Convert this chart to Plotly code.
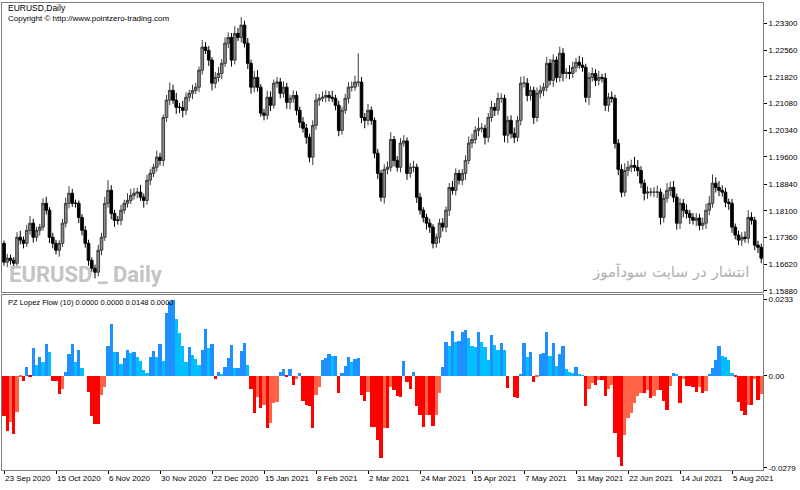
import plotly.graph_objects as go

# ---------------- data ----------------
tick_labels = ["23 Sep 2020", "15 Oct 2020", "6 Nov 2020", "30 Nov 2020", "22 Dec 2020",
               "15 Jan 2021", "8 Feb 2021", "2 Mar 2021", "24 Mar 2021", "15 Apr 2021",
               "7 May 2021", "31 May 2021", "22 Jun 2021", "14 Jul 2021", "5 Aug 2021"]
tick_bars = [0, 16, 32, 48, 64, 80, 96, 112, 128, 144, 160, 176, 192, 208, 224]

first_open = 1.1720
closes = [
    1.1668, 1.1679, 1.1673, 1.1665, 1.1737, 1.1729, 1.1720, 1.1756, 1.1776, 1.1737,
    1.1756, 1.1765, 1.1831, 1.1812, 1.1737, 1.1720, 1.1701, 1.1720, 1.1776, 1.1831,
    1.1859, 1.1831, 1.1831, 1.1792, 1.1756, 1.1720, 1.1673, 1.1651, 1.1640, 1.1701,
    1.1737, 1.1831, 1.1867, 1.1803, 1.1784, 1.1784, 1.1812, 1.1831, 1.1839, 1.1853,
    1.1859, 1.1862, 1.1848, 1.1839, 1.1895, 1.1914, 1.1931, 1.1959, 1.1950, 1.2069,
    1.2117, 1.2144, 1.2117, 1.2097, 1.2097, 1.2089, 1.2125, 1.2136, 1.2144, 1.2153,
    1.2200, 1.2264, 1.2255, 1.2228, 1.2164, 1.2180, 1.2191, 1.2219, 1.2275, 1.2291,
    1.2228, 1.2302, 1.2291, 1.2325, 1.2275, 1.2219, 1.2153, 1.2180, 1.2153, 1.2081,
    1.2075, 1.2125, 1.2103, 1.2164, 1.2167, 1.2136, 1.2153, 1.2111, 1.2122, 1.2130,
    1.2089, 1.2056, 1.2039, 1.2014, 1.1959, 1.2047, 1.2117, 1.2122, 1.2125, 1.2130,
    1.2125, 1.2122, 1.2103, 1.2033, 1.2089, 1.2122, 1.2153, 1.2153, 1.2167, 1.2167,
    1.2069, 1.2061, 1.2089, 1.2061, 1.1970, 1.1914, 1.1848, 1.1925, 1.1931, 1.2008,
    1.1950, 1.1931, 1.1998, 1.2004, 1.1914, 1.1931, 1.1931, 1.1848, 1.1812, 1.1792,
    1.1776, 1.1765, 1.1720, 1.1737, 1.1776, 1.1765, 1.1812, 1.1875, 1.1867, 1.1914,
    1.1895, 1.1914, 1.1950, 1.1998, 1.2008, 1.2033, 1.2039, 1.2039, 1.2014, 1.2069,
    1.2097, 1.2089, 1.2122, 1.2122, 1.2020, 1.2061, 1.2025, 1.2014, 1.2061, 1.2164,
    1.2164, 1.2130, 1.2144, 1.2069, 1.2136, 1.2144, 1.2153, 1.2219, 1.2172, 1.2228,
    1.2180, 1.2247, 1.2191, 1.2194, 1.2191, 1.2208, 1.2222, 1.2214, 1.2208, 1.2125,
    1.2180, 1.2191, 1.2172, 1.2180, 1.2178, 1.2103, 1.2125, 1.2122, 1.1997, 1.1925,
    1.1862, 1.1922, 1.1931, 1.1936, 1.1931, 1.1922, 1.1887, 1.1859, 1.1862, 1.1862,
    1.1862, 1.1862, 1.1792, 1.1845, 1.1867, 1.1875, 1.1848, 1.1776, 1.1831, 1.1812,
    1.1803, 1.1792, 1.1784, 1.1790, 1.1770, 1.1776, 1.1812, 1.1831, 1.1887, 1.1875,
    1.1867, 1.1862, 1.1834, 1.1831, 1.1765, 1.1743, 1.1729, 1.1737, 1.1734, 1.1792,
    1.1784, 1.1715, 1.1709, 1.1679,
]
# wick lengths above / below the body, in pips
upper_wick_pips = [
    8, 12, 10, 9, 14, 18, 10, 15, 20, 12,
    10, 9, 14, 18, 8, 12, 10, 9, 12, 16,
    20, 12, 10, 8, 9, 12, 10, 8, 10, 15,
    12, 18, 28, 14, 10, 12, 15, 10, 20, 18,
    14, 12, 20, 10, 15, 12, 10, 18, 12, 8,
    14, 22, 16, 20, 12, 18, 14, 10, 16, 12,
    10, 20, 14, 12, 8, 15, 18, 12, 16, 14,
    12, 20, 15, 22, 12, 14, 10, 18, 20, 8,
    12, 18, 16, 10, 14, 12, 16, 12, 10, 14,
    12, 10, 14, 12, 10, 14, 18, 12, 16, 14,
    12, 18, 10, 12, 10, 12, 14, 16, 18, 80,
    14, 12, 18, 10, 8, 12, 10, 14, 16, 20,
    10, 12, 14, 16, 10, 12, 18, 10, 12, 8,
    10, 12, 8, 10, 12, 14, 10, 12, 18, 14,
    10, 12, 14, 18, 16, 12, 30, 14, 10, 12,
    18, 12, 16, 14, 10, 12, 14, 16, 12, 18,
    20, 14, 12, 10, 16, 14, 12, 18, 12, 16,
    10, 18, 14, 12, 20, 16, 12, 18, 22, 10,
    14, 16, 12, 18, 10, 14, 12, 16, 10, 12,
    14, 20, 18, 16, 24, 20, 12, 10, 16, 12,
    14, 18, 10, 12, 20, 16, 18, 10, 14, 12,
    16, 10, 12, 14, 12, 16, 18, 20, 24, 16,
    18, 14, 12, 10, 12, 10, 12, 14, 16, 20,
    14, 10, 12, 10,
]
lower_wick_pips = [
    10, 14, 12, 16, 10, 12, 14, 10, 12, 15,
    12, 14, 10, 12, 16, 14, 12, 18, 10, 12,
    14, 10, 12, 16, 14, 12, 15, 10, 17, 12,
    14, 10, 12, 16, 18, 12, 14, 10, 12, 10,
    12, 14, 10, 20, 12, 14, 10, 12, 14, 16,
    12, 14, 10, 18, 16, 20, 14, 12, 16, 10,
    14, 12, 10, 16, 20, 14, 12, 16, 10, 14,
    18, 12, 10, 14, 12, 16, 18, 14, 12, 10,
    14, 12, 16, 10, 12, 14, 12, 18, 20, 12,
    14, 16, 12, 18, 14, 22, 12, 16, 10, 14,
    12, 10, 14, 16, 12, 10, 14, 12, 10, 12,
    16, 22, 14, 12, 14, 16, 12, 18, 14, 12,
    16, 12, 14, 10, 18, 12, 14, 16, 12, 14,
    18, 16, 14, 12, 16, 12, 14, 16, 12, 14,
    12, 14, 18, 10, 14, 12, 16, 12, 20, 14,
    12, 16, 14, 12, 20, 22, 14, 16, 12, 14,
    12, 16, 14, 18, 12, 14, 16, 12, 14, 18,
    14, 12, 22, 14, 16, 12, 14, 10, 12, 14,
    22, 12, 16, 14, 12, 16, 18, 12, 14, 16,
    14, 12, 16, 14, 12, 16, 14, 20, 16, 12,
    14, 16, 20, 14, 12, 16, 14, 18, 16, 20,
    14, 18, 12, 16, 14, 12, 16, 14, 12, 14,
    16, 12, 14, 18, 16, 12, 14, 16, 12, 14,
    12, 14, 16, 14,
]
lopez_flow = [
    -0.0123, -0.0168, -0.0140, -0.0176, -0.0109, -0.0003, -0.0014, 0.0027, -0.0004, 0.0085,
    0.0034, 0.0057, 0.0044, 0.0098, 0.0073, -0.0015, -0.0015, -0.0056, -0.0041, 0.0013,
    0.0068, 0.0098, 0.0044, 0.0080, 0.0024, 0.0000,
    -0.0048, -0.0123, -0.0147, -0.0147, -0.0058, -0.0035,
    0.0090, 0.0157, 0.0072, 0.0072, 0.0037, 0.0056, 0.0078, 0.0070, 0.0073, 0.0059,
    0.0047, 0.0018, 0.0010, 0.0059, 0.0075, 0.0059, 0.0098, 0.0047, 0.0190, 0.0225,
    0.0230, 0.0172, 0.0131, 0.0092, 0.0044, 0.0088, 0.0064, 0.0051, 0.0034, 0.0080,
    0.0143, 0.0085, 0.0097, -0.0009, 0.0013, 0.0006, 0.0027, 0.0054, 0.0095, 0.0024,
    0.0024, 0.0075, 0.0100, 0.0034,
    -0.0040, -0.0112, -0.0063, -0.0098, -0.0089, -0.0159, -0.0143, -0.0081, -0.0079,
    0.0013, 0.0021, -0.0004, 0.0022, -0.0026, -0.0010, 0.0008, -0.0076, -0.0089, -0.0091,
    -0.0159, -0.0058, -0.0033,
    0.0049, 0.0054, 0.0068, 0.0061, 0.0062, -0.0051,
    0.0010, 0.0029, 0.0057, 0.0044, 0.0052, 0.0054,
    -0.0058, -0.0076, -0.0048, -0.0155, -0.0155, -0.0194, -0.0248, -0.0158, -0.0158, -0.0033,
    -0.0043, -0.0061, -0.0065, 0.0046,
    -0.0017, -0.0041, 0.0013, -0.0091, -0.0120, -0.0155, -0.0120, -0.0120, -0.0152, -0.0120,
    -0.0051,
    0.0026, 0.0102, 0.0092, 0.0136, 0.0102, 0.0105, 0.0133, 0.0139, 0.0115, 0.0090,
    0.0088, 0.0133, 0.0102, 0.0088, 0.0049, 0.0124, 0.0093, 0.0078, 0.0100, 0.0078,
    -0.0036, 0.0000, -0.0064, -0.0068, 0.0003,
    0.0100, 0.0057, 0.0073, -0.0017,
    -0.0004, 0.0068, 0.0070, 0.0133, 0.0062, 0.0100, 0.0029, 0.0068, 0.0092, 0.0021,
    0.0013, 0.0008, 0.0026, 0.0005, 0.0002,
    -0.0092, -0.0041, -0.0020, -0.0026, -0.0012, -0.0012, -0.0061, -0.0041, -0.0028, -0.0174,
    -0.0245, -0.0273, -0.0178, -0.0128, -0.0112, -0.0082, -0.0060, -0.0053, -0.0053, -0.0043,
    -0.0068, -0.0061, -0.0043, -0.0043, -0.0077, -0.0102, -0.0031,
    0.0010, 0.0003,
    -0.0082, -0.0010, -0.0030, -0.0031, -0.0035, -0.0048, -0.0033, -0.0051, -0.0045,
    0.0003, 0.0024, 0.0049, 0.0092, 0.0061, 0.0057, 0.0049, 0.0010,
    -0.0004, -0.0079, -0.0106, -0.0120, -0.0089, -0.0089, -0.0010, -0.0074, -0.0055,
]

price_ticks = [1.23300, 1.22560, 1.21820, 1.21080, 1.20340, 1.19600,
               1.18840, 1.18100, 1.17360, 1.16620, 1.15880]
flow_ticks = [0.0233, 0.0, -0.0279]
flow_tick_text = ["0.0233", "0.00", "-0.0279"]

# ---------------- build ----------------
n = len(closes)
bars = list(range(n))
opens = [first_open] + closes[:-1]
highs = [max(o, c) + u / 10000 for o, c, u in zip(opens, closes, upper_wick_pips)]
lows = [min(o, c) - d / 10000 for o, c, d in zip(opens, closes, lower_wick_pips)]

flow_colors = []
prev = None
for v in lopez_flow:
    if v >= 0:
        flow_colors.append("#1E90FF" if (prev is None or v >= prev) else "#00BFFF")
    else:
        flow_colors.append("#FF0000" if (prev is None or v <= prev) else "#FF6347")
    prev = v

FONT = "Liberation Sans, Arial, sans-serif"
BORDER = "#808080"

fig = go.Figure()
fig.add_trace(go.Candlestick(
    x=bars, open=opens, high=highs, low=lows, close=closes,
    increasing=dict(line=dict(color="#3c3c3c", width=1), fillcolor="#8a8a8a"),
    decreasing=dict(line=dict(color="#000000", width=1), fillcolor="#000000"),
    whiskerwidth=0, xaxis="x", yaxis="y", hoverinfo="skip",
))
fig.add_trace(go.Bar(
    x=list(range(len(lopez_flow))), y=lopez_flow, marker=dict(color=flow_colors, line=dict(width=0)),
    width=1.0, xaxis="x2", yaxis="y2", hoverinfo="skip",
))

x_range = [-0.62, 233.54]
fig.update_layout(
    width=800, height=490,
    margin=dict(l=2, r=37, t=3, b=20, autoexpand=False),
    paper_bgcolor="white", plot_bgcolor="white",
    showlegend=False, bargap=0, boxgap=0.15, boxgroupgap=0.05,
    font=dict(family=FONT, size=8, color="black"),
    xaxis=dict(domain=[0, 1], range=x_range, anchor="y", showticklabels=False,
               showgrid=False, zeroline=False, ticks="", rangeslider=dict(visible=False),
               showline=True, mirror=True, linecolor=BORDER, linewidth=1, automargin=False),
    yaxis=dict(domain=[0.3812, 1], side="right", range=[1.15852, 1.23863],
               tickvals=price_ticks, ticktext=[f"{t:.5f}" for t in price_ticks],
               ticks="outside", ticklen=3, tickcolor="black", tickfont=dict(size=8, family=FONT),
               showgrid=False, zeroline=False, showline=True, mirror=True,
               linecolor=BORDER, linewidth=1, automargin=False),
    xaxis2=dict(domain=[0, 1], range=x_range, anchor="y2", matches="x",
                tickvals=tick_bars, ticktext=tick_labels, ticks="outside", ticklen=3,
                tickcolor="black", ticklabelposition="outside right", tickangle=0,
                tickfont=dict(size=8, family=FONT),
                showgrid=False, zeroline=False, showline=True, mirror=True,
                linecolor=BORDER, linewidth=1, automargin=False),
    yaxis2=dict(domain=[0, 0.3747], side="right", range=[-0.02858, 0.02462],
                tickvals=flow_ticks, ticktext=flow_tick_text, ticks="outside", ticklen=3,
                tickcolor="black", tickfont=dict(size=8, family=FONT),
                showgrid=False, zeroline=False, showline=True, mirror=True,
                linecolor=BORDER, linewidth=1, automargin=False),
)

annos = [
    dict(text="EURUSD,Daily", x=0.0053, y=0.989, size=8.5),
    dict(text="Copyright © http://www.pointzero-trading.com", x=0.0053, y=0.9668, size=8),
    dict(text="PZ Lopez Flow (10) 0.0000 0.0000 0.0148 0.0000", x=0.0053, y=0.3597, size=7.5),
]
for a in annos:
    fig.add_annotation(text=a["text"], xref="paper", yref="paper", x=a["x"], y=a["y"],
                       xanchor="left", yanchor="middle", showarrow=False,
                       font=dict(size=a["size"], color="black", family=FONT))

fig.add_annotation(text="<b>EURUSD _ Daily</b>", xref="paper", yref="paper", x=0.0066, y=0.4176,
                   xanchor="left", yanchor="middle", showarrow=False,
                   font=dict(size=22, color="#c4c4c4", family="Roboto, Liberation Sans, sans-serif"))
fig.add_annotation(text="انتشار در سایت سودآموز", xref="paper", yref="paper", x=0.9855, y=0.424,
                   xanchor="right", yanchor="middle", showarrow=False,
                   font=dict(size=15, color="#b0b0b0", family="DejaVu Sans, sans-serif"))

fig.write_html("out.html")
